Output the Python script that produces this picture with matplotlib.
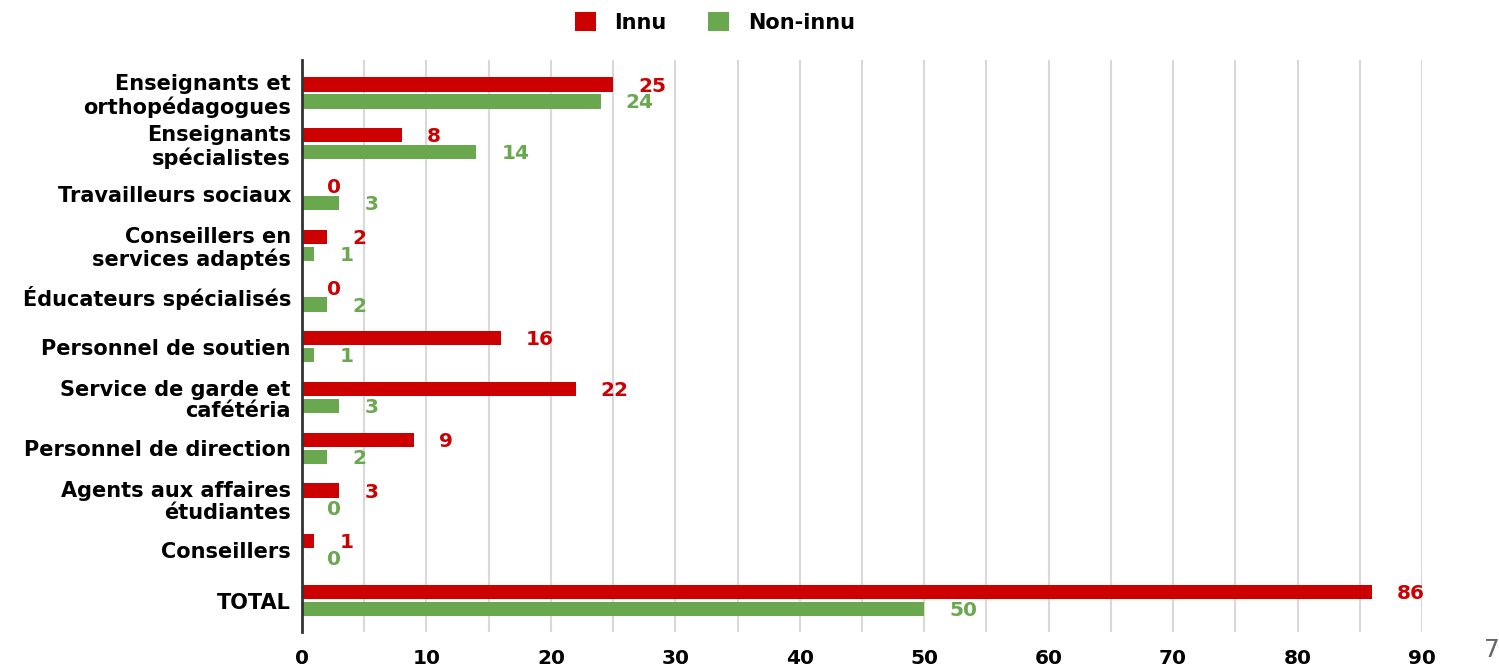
import numpy as np
import matplotlib
import matplotlib.pyplot as plt

matplotlib.use("Agg")

# données
categories = [
    "Enseignants et\northopédagogues",
    "Enseignants\nspécialistes",
    "Travailleurs sociaux",
    "Conseillers en\nservices adaptés",
    "Éducateurs spécialisés",
    "Personnel de soutien",
    "Service de garde et\ncafétéria",
    "Personnel de direction",
    "Agents aux affaires\nétudiantes",
    "Conseillers",
    "TOTAL",
]
innu = [25, 8, 0, 2, 0, 16, 22, 9, 3, 1, 86]
non_innu = [24, 14, 3, 1, 2, 1, 3, 2, 0, 0, 50]
x_ticks = [0, 10, 20, 30, 40, 50, 60, 70, 80, 90]

RED = "#cc0000"
GREEN = "#6aa84f"

plt.rcParams["font.family"] = ["DejaVu Sans"]

fig = plt.figure(figsize=(14.99, 6.68), dpi=100)
ax = fig.add_axes([302 / 1499, 36 / 668, 1120 / 1499, 572 / 668])

y = np.arange(len(categories))
h = 0.28
off = 0.167

ax.barh(y - off, innu, height=h, color=RED, label="Innu", zorder=3)
ax.barh(y + off, non_innu, height=h, color=GREEN, label="Non-innu", zorder=3)

# étiquettes de valeurs
for i in range(len(categories)):
    ax.annotate(str(innu[i]), (innu[i], y[i] - off + 0.03), xytext=(18, 0),
                textcoords="offset points", ha="left", va="center",
                color=RED, fontsize=14.5, fontweight="bold", annotation_clip=False)
    ax.annotate(str(non_innu[i]), (non_innu[i], y[i] + off + 0.03), xytext=(18, 0),
                textcoords="offset points", ha="left", va="center",
                color=GREEN, fontsize=14.5, fontweight="bold", annotation_clip=False)

ax.set_xlim(0, 90)
ax.set_ylim(10.62, -0.65)
ax.set_xticks(x_ticks)
ax.set_xticks(np.arange(5, 90, 10), minor=True)
ax.set_yticks(y)
ax.set_yticklabels(categories, fontsize=15, fontweight="bold", linespacing=1.12)
for lbl in ax.get_xticklabels():
    lbl.set_fontsize(14.5)
    lbl.set_fontweight("bold")

ax.tick_params(axis="x", which="both", length=0, pad=12)
ax.tick_params(axis="y", length=0, pad=8)
ax.grid(axis="x", which="both", color="#d9d9d9", linewidth=1.5, zorder=0)

for s in ["top", "right", "bottom"]:
    ax.spines[s].set_visible(False)
ax.spines["left"].set_color("#333333")
ax.spines["left"].set_linewidth(2)
ax.spines["left"].set_zorder(4)

fig.legend(loc="center", bbox_to_anchor=(715 / 1499, 0.966), ncol=2, frameon=False,
           handlelength=1.0, handleheight=1.0, handletextpad=0.9, columnspacing=2.0,
           prop={"weight": "bold", "size": 15})

# numéro de page
fig.text(1484 / 1499, 6 / 668, "7", color="#666666", fontsize=18, ha="left", va="bottom")

fig.savefig("out.png", dpi=100)
